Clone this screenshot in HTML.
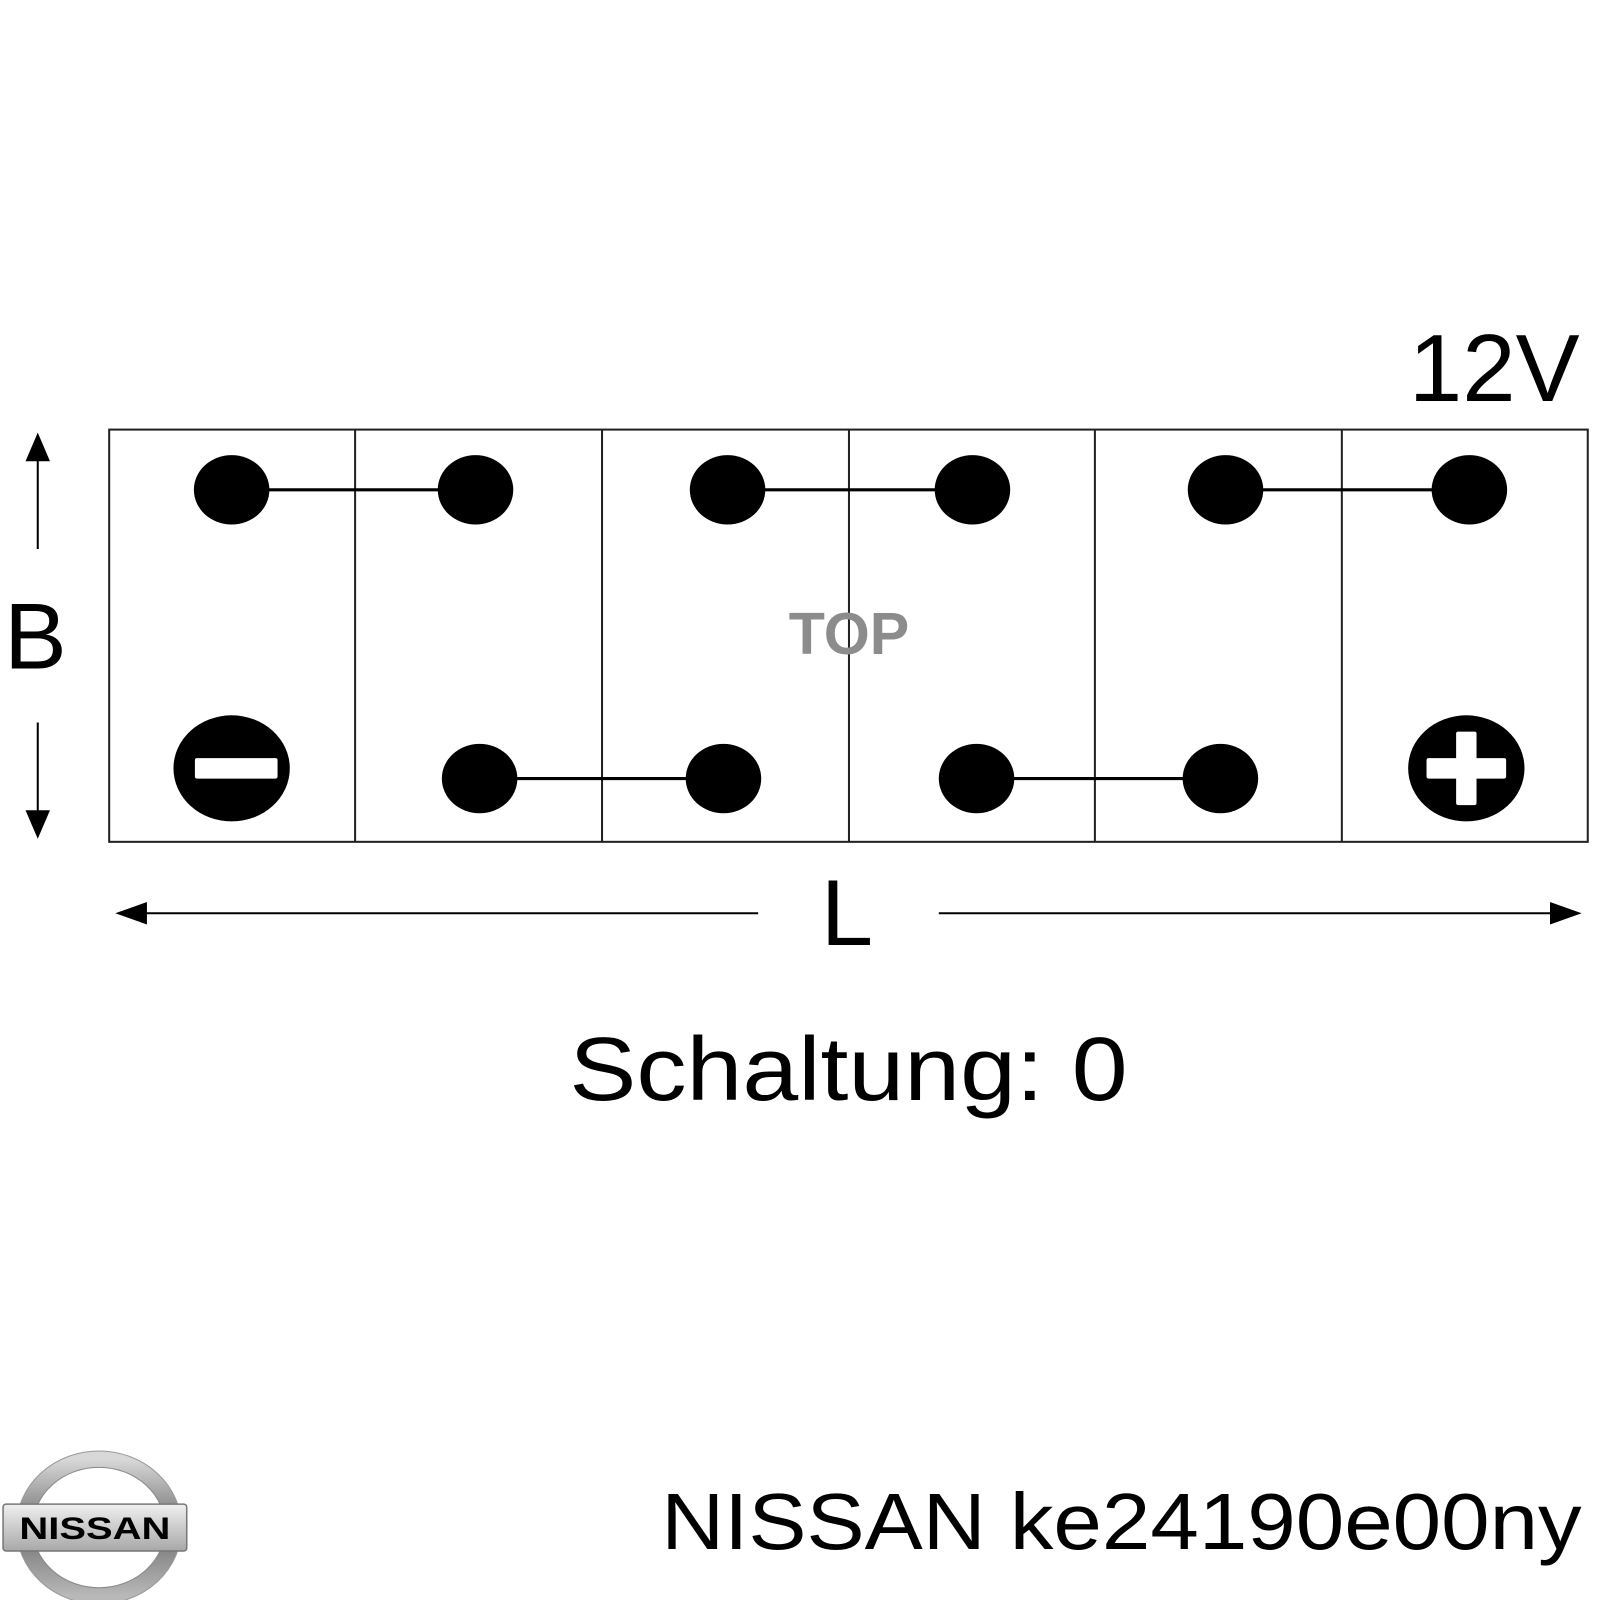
<!DOCTYPE html>
<html><head><meta charset="utf-8"><style>html,body{margin:0;padding:0;background:#fff}svg{display:block}</style></head>
<body>
<svg width="1600" height="1600" viewBox="0 0 1568 1568" xmlns="http://www.w3.org/2000/svg" font-family="Liberation Sans, Arial, sans-serif">
<defs>
<linearGradient id="g" x1="0" y1="0" x2="0" y2="1"><stop offset="0" stop-color="#d8d8d8"/><stop offset="0.5" stop-color="#6e6e6e"/><stop offset="1" stop-color="#b8b8b8"/></linearGradient>
<linearGradient id="b" x1="0" y1="0" x2="0" y2="1"><stop offset="0" stop-color="#f0f0f0"/><stop offset="1" stop-color="#a8a8a8"/></linearGradient>
</defs>
<text x="1548" y="393" font-size="94" text-anchor="end">12V</text>
<rect x="107" y="421" width="1449" height="404" fill="none" stroke="#222" stroke-width="2"/>
<g stroke="#222" stroke-width="2">
<line x1="348" y1="421" x2="348" y2="825"/><line x1="590" y1="421" x2="590" y2="825"/><line x1="832" y1="421" x2="832" y2="825"/><line x1="1073" y1="421" x2="1073" y2="825"/><line x1="1315" y1="421" x2="1315" y2="825"/>
</g>
<text x="832" y="641" font-size="58" font-weight="bold" fill="#8c8c8c" text-anchor="middle">TOP</text>
<g stroke="#000" stroke-width="3">
<line x1="227" y1="480" x2="466" y2="480"/><line x1="713" y1="480" x2="953" y2="480"/><line x1="1201" y1="480" x2="1440" y2="480"/>
<line x1="470" y1="763" x2="709" y2="763"/><line x1="957" y1="763" x2="1196" y2="763"/>
</g>
<g fill="#000">
<ellipse cx="227" cy="480" rx="37" ry="34"/><ellipse cx="466" cy="480" rx="37" ry="34"/><ellipse cx="713" cy="480" rx="37" ry="34"/><ellipse cx="953" cy="480" rx="37" ry="34"/><ellipse cx="1201" cy="480" rx="37" ry="34"/><ellipse cx="1440" cy="480" rx="37" ry="34"/>
<ellipse cx="470" cy="763" rx="37" ry="34"/><ellipse cx="709" cy="763" rx="37" ry="34"/><ellipse cx="957" cy="763" rx="37" ry="34"/><ellipse cx="1196" cy="763" rx="37" ry="34"/>
<ellipse cx="227" cy="753" rx="57" ry="52"/><ellipse cx="1437" cy="753" rx="57" ry="52"/>
</g>
<rect x="191" y="743" width="81" height="20" rx="2" fill="#fff"/>
<rect x="1398" y="743" width="78" height="20" rx="2" fill="#fff"/>
<rect x="1427" y="717" width="20" height="72" rx="2" fill="#fff"/>
<g stroke="#000" stroke-width="2">
<line x1="37" y1="450" x2="37" y2="538"/><line x1="37" y1="708" x2="37" y2="796"/>
<line x1="140" y1="895" x2="743" y2="895"/><line x1="920" y1="895" x2="1522" y2="895"/>
</g>
<polygon points="37,424 25,452 49,452" fill="#000"/>
<polygon points="37,822 25,794 49,794" fill="#000"/>
<polygon points="113,895 144,884 144,906" fill="#000"/>
<polygon points="1550,895 1519,884 1519,906" fill="#000"/>
<text x="4" y="655" font-size="92">B</text>
<text x="830" y="926" font-size="92" text-anchor="middle">L</text>
<text x="558" y="1078" font-size="88" textLength="547" lengthAdjust="spacingAndGlyphs">Schaltung: 0</text>
<text x="648" y="1518" font-size="78" textLength="902" lengthAdjust="spacingAndGlyphs">NISSAN ke24190e00ny</text>
<g>
<ellipse cx="97" cy="1497" rx="73" ry="67" fill="none" stroke="url(#g)" stroke-width="16"/>
<ellipse cx="97" cy="1497" rx="81" ry="75" fill="none" stroke="#999" stroke-width="1"/>
<ellipse cx="97" cy="1497" rx="65" ry="59" fill="none" stroke="#888" stroke-width="1"/>
<rect x="3" y="1474" width="180" height="46" rx="3" fill="url(#b)" stroke="#777" stroke-width="1.5"/>
<text x="93" y="1508" font-size="31" font-weight="bold" text-anchor="middle" textLength="148" lengthAdjust="spacingAndGlyphs">NISSAN</text>
</g>
</svg>
</body></html>
